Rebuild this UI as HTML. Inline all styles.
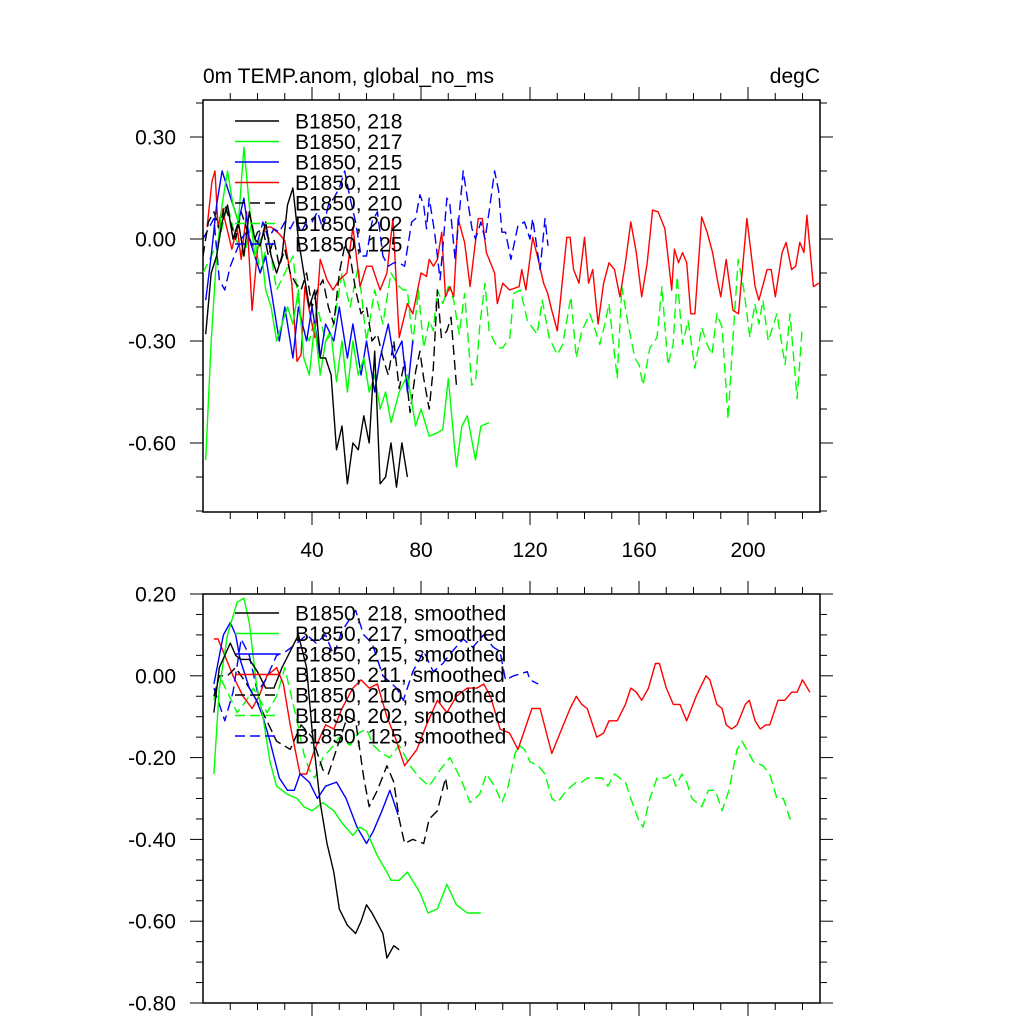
<!DOCTYPE html>
<html><head><meta charset="utf-8">
<style>
html,body{margin:0;padding:0;background:#fff;}
svg{display:block;font-family:"Liberation Sans",sans-serif;}
</style></head>
<body>
<svg id="chart" width="1024" height="1024" viewBox="0 0 1024 1024" xmlns="http://www.w3.org/2000/svg">
<rect width="1024" height="1024" fill="#fff"/>
<defs>
<clipPath id="clipTop"><rect x="203" y="100" width="617" height="412"/></clipPath>
<clipPath id="clipBot"><rect x="203" y="594" width="617" height="409"/></clipPath>
</defs>
<text x="203" y="83" font-size="21">0m TEMP.anom, global_no_ms</text>
<text x="820" y="83" font-size="21" text-anchor="end">degC</text>
<g id="top"></g>
<g id="bot"></g>
</svg>
<script>
// ---------- Data (years, values) ----------
const legendTop = ["B1850, 218","B1850, 217","B1850, 215","B1850, 211","B1850, 210","B1850, 202","B1850, 125"];
const legendBot = ["B1850, 218, smoothed","B1850, 217, smoothed","B1850, 215, smoothed","B1850, 211, smoothed","B1850, 210, smoothed","B1850, 202, smoothed","B1850, 125, smoothed"];
const xTicksMajor = [40,80,120,160,200];
const yTicksTop = [0.30,0.00,-0.30,-0.60];
const yTicksBot = [0.20,0.00,-0.20,-0.40,-0.60,-0.80];

const raw218 = [[1,-0.28],[3,-0.1],[5,-0.05],[7,0.05],[9,0.1],[11,0.0],[13,0.05],[15,-0.05],[17,0.08],[19,0.0],[21,-0.02],[23,0.05],[25,-0.05],[27,-0.1],[29,-0.05],[31,0.1],[33,0.15],[35,0.0],[37,-0.1],[39,-0.2],[41,-0.15],[43,-0.35],[45,-0.35],[47,-0.4],[49,-0.62],[51,-0.55],[53,-0.72],[55,-0.6],[57,-0.62],[59,-0.52],[61,-0.6],[63,-0.33],[65,-0.72],[67,-0.7],[69,-0.6],[71,-0.73],[73,-0.6],[75,-0.7]];
const raw217 = [[1,-0.65],[3,-0.3],[5,-0.05],[7,0.1],[9,0.2],[11,0.1],[13,0.05],[15,0.27],[17,0.1],[19,-0.05],[21,0.0],[23,-0.15],[25,-0.2],[27,-0.3],[29,-0.25],[31,-0.2],[33,-0.25],[35,-0.15],[37,-0.35],[39,-0.4],[41,-0.25],[43,-0.4],[45,-0.3],[47,-0.28],[49,-0.42],[51,-0.3],[53,-0.45],[55,-0.3],[57,-0.4],[59,-0.35],[61,-0.45],[63,-0.4],[65,-0.5],[67,-0.45],[69,-0.54],[72,-0.45],[75,-0.4],[78,-0.55],[80,-0.5],[83,-0.58],[86,-0.57],[88,-0.56],[90,-0.41],[93,-0.67],[95,-0.55],[97,-0.52],[100,-0.65],[102,-0.55],[105,-0.54]];
const raw215 = [[1,-0.18],[3,-0.05],[5,0.1],[7,0.2],[9,0.15],[11,0.1],[13,0.05],[15,0.12],[17,0.0],[19,-0.05],[21,-0.1],[23,-0.05],[25,-0.15],[28,-0.3],[30,-0.2],[33,-0.35],[35,-0.2],[38,-0.3],[40,-0.2],[43,-0.35],[45,-0.25],[48,-0.3],[50,-0.2],[53,-0.35],[55,-0.25],[58,-0.4],[60,-0.3],[63,-0.45],[65,-0.35],[68,-0.25],[70,-0.35],[73,-0.3],[75,-0.45],[77,-0.3]];
const raw211 = [[1.5,0.035],[3.3,0.17],[4.4,0.2],[5.5,0.035],[7,0.09],[10.6,-0.03],[12.5,0.035],[14,-0.06],[16,0.08],[18,-0.21],[20,-0.03],[23,0.035],[25,0.035],[28,0.015],[30,-0.005],[32.6,-0.13],[34.5,-0.36],[36,-0.34],[37.4,-0.14],[39,-0.21],[41,-0.29],[43,-0.06],[45.5,-0.12],[47.7,-0.15],[50,-0.12],[52.8,-0.1],[55,0.035],[57.6,-0.14],[60,-0.08],[62,-0.08],[65,-0.15],[67.5,-0.1],[69.7,0.06],[72,-0.29],[75,-0.19],[77,-0.22],[80,-0.1],[82,-0.11],[83,-0.06],[84.6,-0.08],[86,-0.06],[87.6,0.02],[89,-0.17],[90.6,-0.14],[92,-0.17],[93.6,0.06],[96,-0.01],[98,-0.14],[101,0.06],[102.5,0.06],[104,-0.04],[107,-0.1],[108,-0.19],[110,-0.13],[112.5,-0.15],[116,-0.14],[117,-0.09],[118.5,-0.15],[121,0.005],[123,-0.06],[125,-0.13],[126.5,-0.16],[128,-0.21],[130,-0.27],[133.5,0.005],[134.7,0.005],[136,-0.09],[138,-0.13],[140,0.005],[141.5,-0.13],[143,-0.09],[145,-0.25],[147,-0.13],[149,-0.07],[151,-0.09],[153,-0.17],[155,-0.07],[157,0.05],[159,-0.04],[161,-0.17],[163,-0.07],[165,0.085],[167,0.08],[169.5,0.03],[172,-0.15],[173,-0.03],[174.5,-0.07],[176,-0.04],[177.5,-0.07],[179,-0.22],[180.5,-0.22],[183,0.065],[185,0.02],[187,-0.04],[189,-0.13],[190,-0.17],[192,-0.06],[194.5,-0.21],[196.5,-0.22],[199.6,0.06],[202.6,-0.14],[204,-0.18],[207,-0.09],[208.5,-0.09],[210,-0.17],[212.5,-0.04],[214,-0.01],[216,-0.09],[217.5,-0.08],[219,-0.01],[220.5,-0.04],[221.6,0.07],[224,-0.14],[226,-0.13]];
const raw210 = [[0,-0.05],[2,0.05],[4,0.08],[6,0.03],[8,0.1],[10,0.05],[12,0.0],[14,0.08],[16,0.03],[18,-0.02],[20,0.02],[22,0.03],[24,-0.05],[26,0.0],[28,-0.08],[30,-0.03],[32,-0.1],[34,-0.13],[36,-0.15],[38,-0.1],[40,-0.2],[42,-0.15],[44,-0.12],[46,-0.2],[48,-0.25],[50,-0.1],[52,-0.02],[54,-0.05],[56,-0.15],[58,-0.22],[60,-0.2],[62,-0.3],[64,-0.28],[66,-0.35],[68,-0.4],[70,-0.3],[72,-0.44],[74,-0.36],[76,-0.51],[78,-0.39],[79.6,-0.33],[81,-0.41],[83,-0.5],[84.5,-0.38],[86,-0.15],[87.5,-0.29],[89.5,-0.27],[91,-0.23],[93,-0.43]];
const raw202 = [[0,-0.1],[3,-0.05],[6,0.0],[9,0.1],[12,0.0],[15,-0.05],[18,0.05],[21,-0.1],[24,0.0],[27,-0.15],[30,-0.1],[33,-0.05],[36,-0.25],[39,-0.3],[42,-0.2],[45,-0.3],[48,-0.25],[51,-0.1],[54,-0.2],[57,-0.08],[60,-0.3],[63,-0.15],[66,-0.25],[69,-0.1],[72,-0.14],[73.5,-0.15],[75,-0.15],[77,-0.31],[79,-0.15],[81,-0.32],[83,-0.24],[84.5,-0.27],[86,-0.15],[88,-0.19],[90,-0.14],[92,-0.18],[94,-0.28],[96,-0.16],[98.6,-0.43],[100,-0.42],[101.6,-0.25],[103.5,-0.13],[105,-0.27],[108,-0.32],[110,-0.32],[112.6,-0.29],[114,-0.16],[116.5,-0.15],[119,-0.24],[122.6,-0.28],[124.5,-0.18],[127,-0.29],[130,-0.34],[132,-0.31],[135,-0.17],[137,-0.35],[139,-0.27],[142,-0.22],[145.6,-0.31],[147.5,-0.25],[149,-0.19],[152,-0.41],[153.7,-0.14],[156,-0.25],[158.5,-0.35],[160,-0.37],[161.5,-0.43],[164,-0.32],[166.6,-0.29],[168.4,-0.14],[170.6,-0.37],[172.5,-0.31],[174,-0.11],[176,-0.31],[178,-0.24],[180.5,-0.38],[183,-0.26],[185,-0.31],[186.8,-0.34],[188.6,-0.22],[190.5,-0.26],[192.7,-0.53],[194.5,-0.29],[196.4,-0.06],[198.5,-0.15],[200.7,-0.29],[202.5,-0.19],[204,-0.25],[205.5,-0.18],[207.4,-0.3],[210.6,-0.22],[213.6,-0.37],[215.4,-0.22],[218,-0.47],[219.8,-0.27]];
const raw125 = [[0,0.0],[2,0.03],[4,0.06],[6,-0.12],[8,-0.15],[10,-0.08],[12,-0.04],[14,0.0],[16,0.02],[18,-0.02],[20,-0.01],[22,0.05],[24,0.0],[26,0.03],[28,0.02],[30,0.05],[32,0.03],[34,0.06],[36,0.02],[38,0.05],[40,0.05],[42,0.08],[44,0.03],[46,0.1],[48,0.12],[50,0.15],[52,0.2],[54,0.12],[56,0.05],[58,-0.05],[60,-0.05],[62,0.05],[64,0.08],[66,-0.05],[68,-0.08],[70,-0.07],[72,-0.07],[74,-0.08],[76.6,0.05],[78,0.06],[79.6,0.13],[81,0.1],[82,0.03],[83,0.12],[85,0.02],[87,-0.12],[89.5,0.12],[90.5,0.11],[92.5,-0.06],[95.5,0.2],[98.7,0.03],[100,0.0],[102,0.05],[103.5,0.0],[105,0.08],[107,0.2],[108.5,0.14],[109.7,0.02],[111,0.02],[113,-0.06],[115.6,0.04],[118,0.05],[120,0.0],[121,0.06],[123.7,-0.09],[125.5,0.06],[126.6,-0.02]];

const sm218 = [[4,-0.09],[6,0.02],[10,0.08],[12,0.05],[14,0.04],[17,0.04],[20,0.01],[23,-0.03],[26,-0.03],[29,0.02],[32,0.06],[35,0.1],[38,0.02],[40,-0.13],[43,-0.31],[45.5,-0.41],[48,-0.48],[50,-0.57],[53,-0.61],[56,-0.63],[58,-0.6],[60,-0.56],[62,-0.58],[66,-0.63],[67.5,-0.69],[70,-0.66],[72,-0.67]];
const sm217 = [[4,-0.24],[6,-0.03],[9,0.1],[12.5,0.18],[15,0.19],[17,0.13],[19.6,-0.02],[22,-0.1],[24.6,-0.21],[27,-0.27],[31,-0.29],[34.5,-0.3],[37,-0.32],[40,-0.33],[44,-0.31],[48,-0.33],[51,-0.36],[55,-0.39],[57.5,-0.37],[60,-0.38],[64,-0.44],[67.5,-0.48],[69,-0.5],[72,-0.5],[75,-0.48],[79.6,-0.53],[82.6,-0.58],[86,-0.57],[89.5,-0.51],[93,-0.56],[97,-0.58],[102,-0.58]];
const sm215 = [[4,-0.02],[7.5,0.1],[10,0.13],[12,0.1],[13.6,0.04],[17,-0.03],[19.6,-0.06],[22,-0.1],[24.6,-0.16],[28,-0.25],[31,-0.28],[33.5,-0.28],[35.6,-0.24],[39,-0.26],[42,-0.3],[45,-0.27],[49,-0.26],[52.5,-0.3],[56.5,-0.37],[60,-0.41],[62.5,-0.38],[65.7,-0.33],[68.6,-0.28],[71.6,-0.34]];
const sm211 = [[4,0.09],[5.5,0.09],[8,0.05],[11,0.0],[14.7,-0.05],[18,-0.08],[20.5,-0.05],[23.5,0.0],[27,0.02],[29.5,-0.02],[32,-0.12],[35.6,-0.24],[38,-0.24],[41,-0.18],[45,-0.12],[48,-0.13],[51,-0.08],[55,-0.03],[58,-0.01],[61,-0.03],[64,-0.02],[67.5,-0.1],[70.5,-0.15],[74,-0.22],[78.5,-0.18],[82,-0.12],[86,-0.06],[89.5,-0.09],[93,-0.05],[97,-0.03],[100.5,-0.03],[103,-0.02],[105.5,-0.05],[109,-0.13],[112.5,-0.14],[115.6,-0.18],[120.7,-0.08],[123.7,-0.08],[128,-0.19],[131,-0.14],[134.7,-0.08],[137,-0.05],[139,-0.07],[141,-0.08],[144.5,-0.15],[147,-0.14],[149,-0.11],[152,-0.11],[155,-0.07],[157,-0.03],[159,-0.04],[161,-0.06],[163.5,-0.03],[166,0.03],[167.5,0.03],[170,-0.03],[172.6,-0.07],[175,-0.07],[177.5,-0.11],[181,-0.05],[184.6,0.0],[186,-0.01],[188.6,-0.07],[190.5,-0.08],[192,-0.12],[194,-0.13],[196,-0.12],[199,-0.07],[200.5,-0.06],[202.6,-0.11],[204.5,-0.13],[206.5,-0.12],[208,-0.12],[211,-0.06],[213.5,-0.06],[216,-0.04],[218,-0.04],[220,-0.01],[222.7,-0.04]];
const sm210 = [[4,-0.05],[6,0.0],[9,0.0],[12,0.02],[15,-0.01],[18,-0.04],[22,-0.09],[27,-0.16],[32,-0.18],[36,-0.12],[40,-0.15],[44,-0.23],[46,-0.24],[49,-0.18],[53,-0.1],[56,-0.11],[59,-0.25],[61,-0.32],[64,-0.28],[67.5,-0.22],[70,-0.26],[72,-0.35],[74,-0.41],[77,-0.4],[81,-0.41],[83,-0.35],[86,-0.33],[89,-0.25],[90,-0.29]];
const sm202 = [[4,-0.06],[6,0.0],[9,-0.04],[12.5,-0.09],[16,-0.06],[18.5,-0.03],[21,-0.06],[23.5,-0.09],[27,-0.05],[30,0.02],[34.5,-0.11],[37,-0.19],[39,-0.23],[41,-0.25],[44,-0.2],[48,-0.17],[50,-0.15],[54,-0.17],[57,-0.14],[60,-0.13],[62.5,-0.17],[65.7,-0.19],[68.5,-0.2],[72,-0.17],[76,-0.22],[79.6,-0.25],[83,-0.27],[87,-0.23],[90.6,-0.2],[94.5,-0.25],[98,-0.31],[101.5,-0.29],[104,-0.24],[107,-0.27],[109.7,-0.31],[112,-0.27],[114.5,-0.19],[116,-0.17],[118,-0.18],[120,-0.21],[123,-0.22],[125.5,-0.24],[128,-0.3],[130,-0.31],[133.5,-0.28],[137,-0.26],[139,-0.26],[141,-0.25],[144,-0.25],[146.5,-0.25],[148.6,-0.27],[151,-0.24],[155,-0.26],[157,-0.3],[159.7,-0.35],[161.5,-0.37],[164,-0.3],[166.6,-0.25],[170,-0.25],[172,-0.24],[173.5,-0.27],[175.7,-0.24],[177.5,-0.26],[179.4,-0.3],[183,-0.32],[185.5,-0.28],[188,-0.28],[190.5,-0.33],[193,-0.28],[196,-0.18],[197.8,-0.16],[199.5,-0.18],[202,-0.21],[205.5,-0.22],[208,-0.24],[210.6,-0.3],[213,-0.3],[215.4,-0.35],[216.6,-0.34]];
const sm125 = [[4,-0.03],[8,-0.11],[11,-0.04],[14,0.09],[17,0.05],[20,-0.04],[23,-0.01],[27,0.05],[30.5,0.06],[34.5,0.08],[38,0.1],[41.5,0.08],[45,0.1],[48,0.05],[51,0.11],[56,0.16],[59,0.1],[62,0.08],[66,0.0],[71,-0.03],[73.5,-0.06],[77,0.01],[81,0.06],[84.5,0.01],[88,0.03],[91.5,0.06],[95.5,0.09],[99,0.07],[103,0.1],[106.5,0.07],[109,0.06],[111,-0.01],[114,0.0],[119,0.01],[120,-0.01],[123,-0.02]];

// ---------- helpers ----------
const NS = "http://www.w3.org/2000/svg";
const svg = document.getElementById('chart');
const gTop = document.getElementById('top');
const gBot = document.getElementById('bot');
const X0 = 203, X1 = 820;
const FS = 21;
function xS(v){ return X0 + v * 2.725; }
function yTop(v){ return 239 - v * 340; }
function yBot(v){ return 594 + (0.2 - v) * 409; }
function mk(tag, attrs, parent){ const e = document.createElementNS(NS, tag); for (const k in attrs) e.setAttribute(k, attrs[k]); parent.appendChild(e); return e; }

function drawFrame(g, yT, yB, yScale, yMajors, yMinorStep, yMin, yMax, showXLabels){
  const fr = mk('rect', {x:X0, y:yT, width:X1-X0, height:yB-yT, fill:'none', stroke:'#000', 'stroke-width':1.5}, g);
  
  
  for (let v = 10; v <= 226; v += 10){
    const major = v % 40 === 0;
    const L = major ? 13 : 7;
    const x = xS(v);
    const tb = mk('line', {x1:x, x2:x, y1:yB, y2:yB+L, stroke:'#000', 'stroke-width':1}, g);
    
    
    const tt = mk('line', {x1:x, x2:x, y1:yT, y2:yT-L, stroke:'#000', 'stroke-width':1}, g);
    
    
  }
  if (showXLabels){
    xTicksMajor.forEach(v => {
      const t = mk('text', {x:xS(v), y:yB+45, 'font-size':FS, 'text-anchor':'middle'}, g);
      t.textContent = String(v);
      
      
    });
  }
  const n = Math.round((yMax - yMin) / yMinorStep);
  for (let i = 0; i <= n; i++){
    const v = yMin + i * yMinorStep;
    const y = yScale(v);
    if (y < yT - 0.5 || y > yB + 0.5) continue;
    const major = yMajors.some(m => Math.abs(m - v) < 1e-6);
    const L = major ? 13 : 7;
    const a = mk('line', {x1:X0, x2:X0-L, y1:y, y2:y, stroke:'#000', 'stroke-width':1}, g);
    
    
    const b = mk('line', {x1:X1, x2:X1+L, y1:y, y2:y, stroke:'#000', 'stroke-width':1}, g);
    
    
  }
  yMajors.forEach(v => {
    const t = mk('text', {x:176, y:yScale(v)+7.5, 'font-size':FS, 'text-anchor':'end'}, g);
    t.textContent = v.toFixed(2);
    
    
  });
}

function drawSeries(g, data, yScale, color, dashed, clip, name){
  const d = data.map((p, i) => (i ? 'L' : 'M') + xS(p[0]).toFixed(1) + ' ' + yScale(p[1]).toFixed(1)).join(' ');
  const attrs = {d:d, fill:'none', stroke:color, 'stroke-width':1.4, 'stroke-linejoin':'round', 'clip-path':'url(#' + clip + ')'};
  if (dashed) attrs['stroke-dasharray'] = '10 5';
  const p = mk('path', attrs, g);
  
  
}

function drawLegend(g, labels, styles, y0){
  labels.forEach((lab, i) => {
    const y = y0 + i * 20.5;
    const attrs = {x1:235, x2:279, y1:y, y2:y, stroke:styles[i][0], 'stroke-width':1.4};
    if (styles[i][1]) attrs['stroke-dasharray'] = '10 5';
    const l = mk('line', attrs, g);
    
    
    const t = mk('text', {x:295, y:y+7.5, 'font-size':FS}, g);
    t.textContent = lab;
    
    
  });
}

const G = '#00ff00', K = '#000000', B = '#0000ff', R = '#ff0000';
const styles = [[K,false],[G,false],[B,false],[R,false],[K,true],[G,true],[B,true]];

drawFrame(gTop, 100, 512, yTop, yTicksTop, 0.1, -0.8, 0.4, true);
const topSeries = [raw202, raw211, raw125, raw210, raw215, raw217, raw218];
const topStyle = [[G,true],[R,false],[B,true],[K,true],[B,false],[G,false],[K,false]];
const topNames = ['series-202','series-211','series-125','series-210','series-215','series-217','series-218'];
topSeries.forEach((s, i) => drawSeries(gTop, s, yTop, topStyle[i][0], topStyle[i][1], 'clipTop', topNames[i]));
drawLegend(gTop, legendTop, styles, 121);

drawFrame(gBot, 594, 1003, yBot, yTicksBot, 0.05, -0.8, 0.2, false);
const botSeries = [sm202, sm211, sm125, sm210, sm215, sm217, sm218];
const botNames = ['smoothed-202','smoothed-211','smoothed-125','smoothed-210','smoothed-215','smoothed-217','smoothed-218'];
botSeries.forEach((s, i) => drawSeries(gBot, s, yBot, topStyle[i][0], topStyle[i][1], 'clipBot', botNames[i]));
drawLegend(gBot, legendBot, styles, 613);
</script>
</body></html>
